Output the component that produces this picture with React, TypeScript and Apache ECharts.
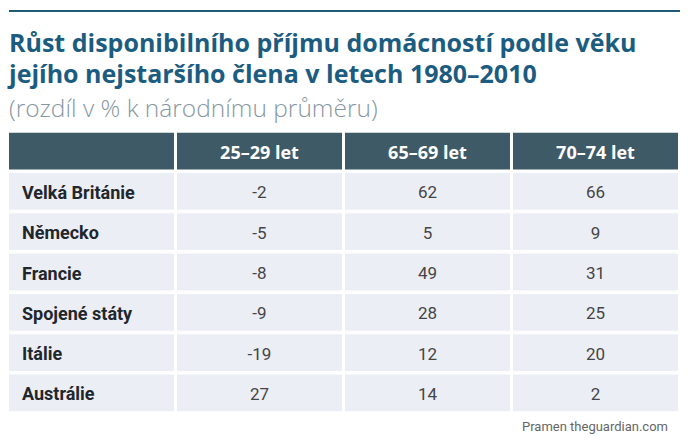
import React, { useEffect, useRef } from "react";
import * as echarts from "echarts";

const titleLines = ["Růst disponibilního příjmu domácností podle věku", "jejího nejstaršího člena v letech 1980–2010"];
const subtitle = "(rozdíl v % k národnímu průměru)";
const source = "Pramen theguardian.com";
const columnHeaders = ["", "25–29 let", "65–69 let", "70–74 let"];
const countries = ["Velká Británie", "Německo", "Francie", "Spojené státy", "Itálie", "Austrálie"];
const age25_29 = [-2, -5, -8, -9, -19, 27];
const age65_69 = [62, 5, 49, 28, 12, 14];
const age70_74 = [66, 9, 31, 25, 20, 2];

const FONT = "Roboto, 'Noto Sans', sans-serif";
const WIDE = "'Open Sans', Roboto, sans-serif";

export default function App() {
  const ref = useRef<HTMLDivElement>(null);
  useEffect(() => {
    if (!ref.current) return;
    const chart = echarts.init(ref.current, undefined, { renderer: "svg" });
    const rowNames = ["header", ...countries];
    const cells: any[] = [];
    columnHeaders.forEach((h, c) => cells.push([c, 0, h, "header"]));
    countries.forEach((name, i) => {
      cells.push([0, i + 1, name, "label"]);
      cells.push([1, i + 1, String(age25_29[i]), "value"]);
      cells.push([2, i + 1, String(age65_69[i]), "value"]);
      cells.push([3, i + 1, String(age70_74[i]), "value"]);
    });
    chart.setOption({
      animation: false,
      backgroundColor: "#ffffff",
      title: {
        text: titleLines.join("\n"),
        subtext: subtitle,
        left: 9,
        top: 26,
        padding: 0,
        itemGap: 4,
        textStyle: { fontFamily: WIDE, fontWeight: "bold", fontSize: 25, lineHeight: 31, color: "#1b5c80" },
        subtextStyle: { fontFamily: WIDE, fontWeight: 300, fontSize: 24.5, lineHeight: 30, color: "#8797a2" },
      },
      grid: { left: 8, right: 8, top: 131, height: 282, containLabel: false },
      xAxis: { type: "category", data: columnHeaders.map((_, i) => String(i)), show: false },
      yAxis: { type: "category", data: rowNames, inverse: true, show: false },
      series: [
        {
          type: "custom",
          data: cells,
          encode: { x: 0, y: 1 },
          renderItem: (params: any, api: any) => {
            const c = api.value(0);
            const r = api.value(1);
            const d = cells[params.dataIndex];
            const text = d[2];
            const kind = d[3];
            const center = api.coord([c, r]);
            const size = api.size([1, 1]);
            const w = size[0] - 3;
            const h = size[1] - 3.5;
            const x0 = center[0] - size[0] / 2 + 1;
            const y0 = center[1] - h / 2;
            const fill = kind === "header" ? "#3f5a67" : "#eceef5";
            const children: any[] = [
              { type: "rect", shape: { x: x0, y: y0, width: w, height: h }, style: { fill } },
            ];
            if (text) {
              children.push({
                type: "text",
                style: {
                  text,
                  x: kind === "label" ? x0 + 13 : x0 + w / 2,
                  y: center[1] + 1,
                  align: kind === "label" ? "left" : "center",
                  verticalAlign: "middle",
                  fontFamily: kind === "header" ? WIDE : FONT,
                  fontSize: kind === "header" ? 18 : kind === "label" ? 18 : 17,
                  fontWeight: kind === "value" ? "normal" : "bold",
                  fill: kind === "header" ? "#ffffff" : kind === "label" ? "#1f272c" : "#454545",
                },
              });
            }
            return { type: "group", children };
          },
        },
      ],
      graphic: [
        { type: "line", shape: { x1: 9, y1: 11, x2: 680, y2: 11 }, style: { stroke: "#1d5b78", lineWidth: 2 } },
        {
          type: "text",
          style: { text: source, x: 668, y: 426, align: "right", verticalAlign: "middle", fontFamily: FONT, fontSize: 13, fill: "#666" },
        },
      ],
    });
    return () => chart.dispose();
  }, []);
  return <div ref={ref} style={{ width: 688, height: 440, position: "absolute", left: 0, top: 0 }} />;
}
